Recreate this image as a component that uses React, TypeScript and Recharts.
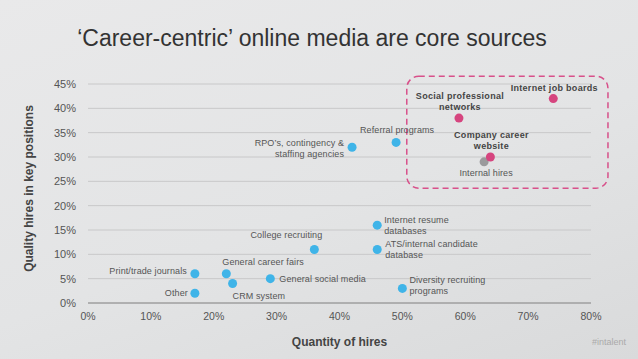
import { ScatterChart, Scatter, XAxis, YAxis, CartesianGrid, ReferenceArea } from "recharts"

// three groups of hiring sources: x = quantity of hires (%), y = quality hires in key positions (%)
const otherNames = [
  "Other",
  "Print/trade journals",
  "General career fairs",
  "CRM system",
  "General social media",
  "College recruiting",
  "RPO's, contingency & staffing agencies",
  "Referral programs",
  "Internet resume databases",
  "ATS/internal candidate database",
  "Diversity recruiting programs",
]
const otherQuantity = [17, 17, 22, 23, 29, 36, 42, 49, 46, 46, 50]
const otherQuality = [2, 6, 6, 4, 5, 11, 32, 33, 16, 11, 3]

const onlineNames = ["Social professional networks", "Internet job boards", "Company career website"]
const onlineQuantity = [59, 74, 64]
const onlineQuality = [38, 42, 30]

const internalNames = ["Internal hires"]
const internalQuantity = [63]
const internalQuality = [29]

const xTicks = [0, 10, 20, 30, 40, 50, 60, 70, 80]
const yTicks = [0, 5, 10, 15, 20, 25, 30, 35, 40, 45]

const toRows = (names: string[], xs: number[], ys: number[]) =>
  names.map((name, i) => ({ name, x: xs[i], y: ys[i] }))

const otherData = toRows(otherNames, otherQuantity, otherQuality)
const onlineData = toRows(onlineNames, onlineQuantity, onlineQuality)
const internalData = toRows(internalNames, internalQuantity, internalQuality)

// label placement relative to each point
type LabelPos = { dx: number; dy: number; anchor: "start" | "middle" | "end"; lines: string[] }
const labelLayout: Record<string, LabelPos> = {
  Other: { dx: -7, dy: 3, anchor: "end", lines: ["Other"] },
  "Print/trade journals": { dx: -8, dy: 0, anchor: "end", lines: ["Print/trade journals"] },
  "General career fairs": { dx: -4, dy: -9, anchor: "start", lines: ["General career fairs"] },
  "CRM system": { dx: 0, dy: 15, anchor: "start", lines: ["CRM system"] },
  "General social media": { dx: 9, dy: 3, anchor: "start", lines: ["General social media"] },
  "College recruiting": { dx: 8, dy: -11, anchor: "end", lines: ["College recruiting"] },
  "RPO's, contingency & staffing agencies": {
    dx: -8, dy: -1, anchor: "end", lines: ["RPO\u2019s, contingency &", "staffing agencies"],
  },
  "Referral programs": { dx: 1, dy: -9, anchor: "middle", lines: ["Referral programs"] },
  "Internet resume databases": { dx: 7, dy: -2, anchor: "start", lines: ["Internet resume", "databases"] },
  "ATS/internal candidate database": {
    dx: 8, dy: -2, anchor: "start", lines: ["ATS/internal candidate", "database"],
  },
  "Diversity recruiting programs": { dx: 7, dy: -5, anchor: "start", lines: ["Diversity recruiting", "programs"] },
  "Social professional networks": {
    dx: 1, dy: -19, anchor: "middle", lines: ["Social professional", "networks"],
  },
  "Internet job boards": { dx: 1, dy: -8, anchor: "middle", lines: ["Internet job boards"] },
  "Company career website": { dx: 1, dy: -19, anchor: "middle", lines: ["Company career", "website"] },
  "Internal hires": { dx: 2, dy: 14, anchor: "middle", lines: ["Internal hires"] },
}

const font = "'Liberation Sans', Arial, Helvetica, sans-serif"

function makeDot(color: string, bold: boolean) {
  return (props: any) => {
    const { cx, cy, payload } = props
    const pos = labelLayout[payload.name]
    return (
      <g>
        <circle cx={cx} cy={cy} r={4.5} fill={color} />
        {pos && (
          <text
            x={cx + pos.dx}
            y={cy + pos.dy}
            textAnchor={pos.anchor}
            fontSize={9}
            fontFamily={font}
            fontWeight={bold ? 700 : 400}
            letterSpacing={bold ? 0.3 : 0.1}
            fill={bold ? "#444" : "#555"}
          >
            {pos.lines.map((line, i) => (
              <tspan key={i} x={cx + pos.dx} dy={i === 0 ? 0 : 11}>
                {line}
              </tspan>
            ))}
          </text>
        )}
      </g>
    )
  }
}

const DashedBox = (props: any) => {
  const { x, y, width, height } = props
  return (
    <rect x={x} y={y} width={width} height={height} rx={12} ry={12} fill="none" stroke="#d8508a" strokeWidth={1.5} strokeDasharray="6 4" />
  )
}

export default function App() {
  return (
    <div
      style={{
        position: "fixed",
        left: 0,
        top: 0,
        width: 638,
        height: 359,
        background: "linear-gradient(160deg, #e9e9ea 0%, #e3e4e5 55%, #d9dadb 100%)",
        fontFamily: font,
      }}
    >
      <div
        style={{
          position: "absolute",
          left: 0,
          top: 25,
          width: 624,
          textAlign: "center",
          fontSize: 23,
          color: "#333",
        }}
      >
        {"\u2018Career-centric\u2019 online media are core sources"}
      </div>
      <div style={{ position: "absolute", right: 12, top: 337, fontSize: 9, color: "#aaa" }}>#intalent</div>
      <ScatterChart width={638} height={359} margin={{ top: 84, right: 47, bottom: 0, left: 0 }} style={{ position: "absolute", left: 0, top: 0 }}>
        <CartesianGrid vertical={false} stroke="#c8c8c9" />
        <XAxis
          type="number"
          dataKey="x"
          domain={[0, 80]}
          ticks={xTicks}
          tickFormatter={(v) => `${v}%`}
          tickLine={false}
          axisLine={{ stroke: "#8a8a8a" }}
          tickMargin={4}
          height={56}
          tick={{ fontSize: 10.5, fill: "#555", fontFamily: font }}
          label={({ viewBox }: any) => (
            <text x={viewBox.x + viewBox.width / 2} y={viewBox.y + 43} textAnchor="middle" fontSize={12} fontWeight={700} fill="#444" fontFamily={font}>
              Quantity of hires
            </text>
          )}
        />
        <YAxis
          type="number"
          dataKey="y"
          domain={[0, 45]}
          ticks={yTicks}
          tickFormatter={(v) => `${v}%`}
          tickLine={false}
          axisLine={false}
          tickMargin={6}
          width={88}
          tick={{ fontSize: 11, fill: "#555", fontFamily: font }}
          label={({ viewBox }: any) => {
            const cx = 33
            const cy = viewBox.y + viewBox.height / 2 - 5
            return (
              <text x={cx} y={cy} transform={`rotate(-90 ${cx} ${cy})`} textAnchor="middle" fontSize={12} fontWeight={700} fill="#444" fontFamily={font}>
                Quality hires in key positions
              </text>
            )
          }}
        />
        <ReferenceArea x1={50.7} x2={82.7} y1={23.6} y2={46.6} ifOverflow="visible" shape={DashedBox} />
        <Scatter name="Other sources" data={otherData} fill="#3fb4e8" shape={makeDot("#3fb4e8", false)} isAnimationActive={false} />
        <Scatter name="Internal" data={internalData} fill="#9a9a9c" shape={makeDot("#9a9a9c", false)} isAnimationActive={false} />
        <Scatter name="Career-centric online" data={onlineData} fill="#d6457f" shape={makeDot("#d6457f", true)} isAnimationActive={false} />
      </ScatterChart>
    </div>
  )
}
